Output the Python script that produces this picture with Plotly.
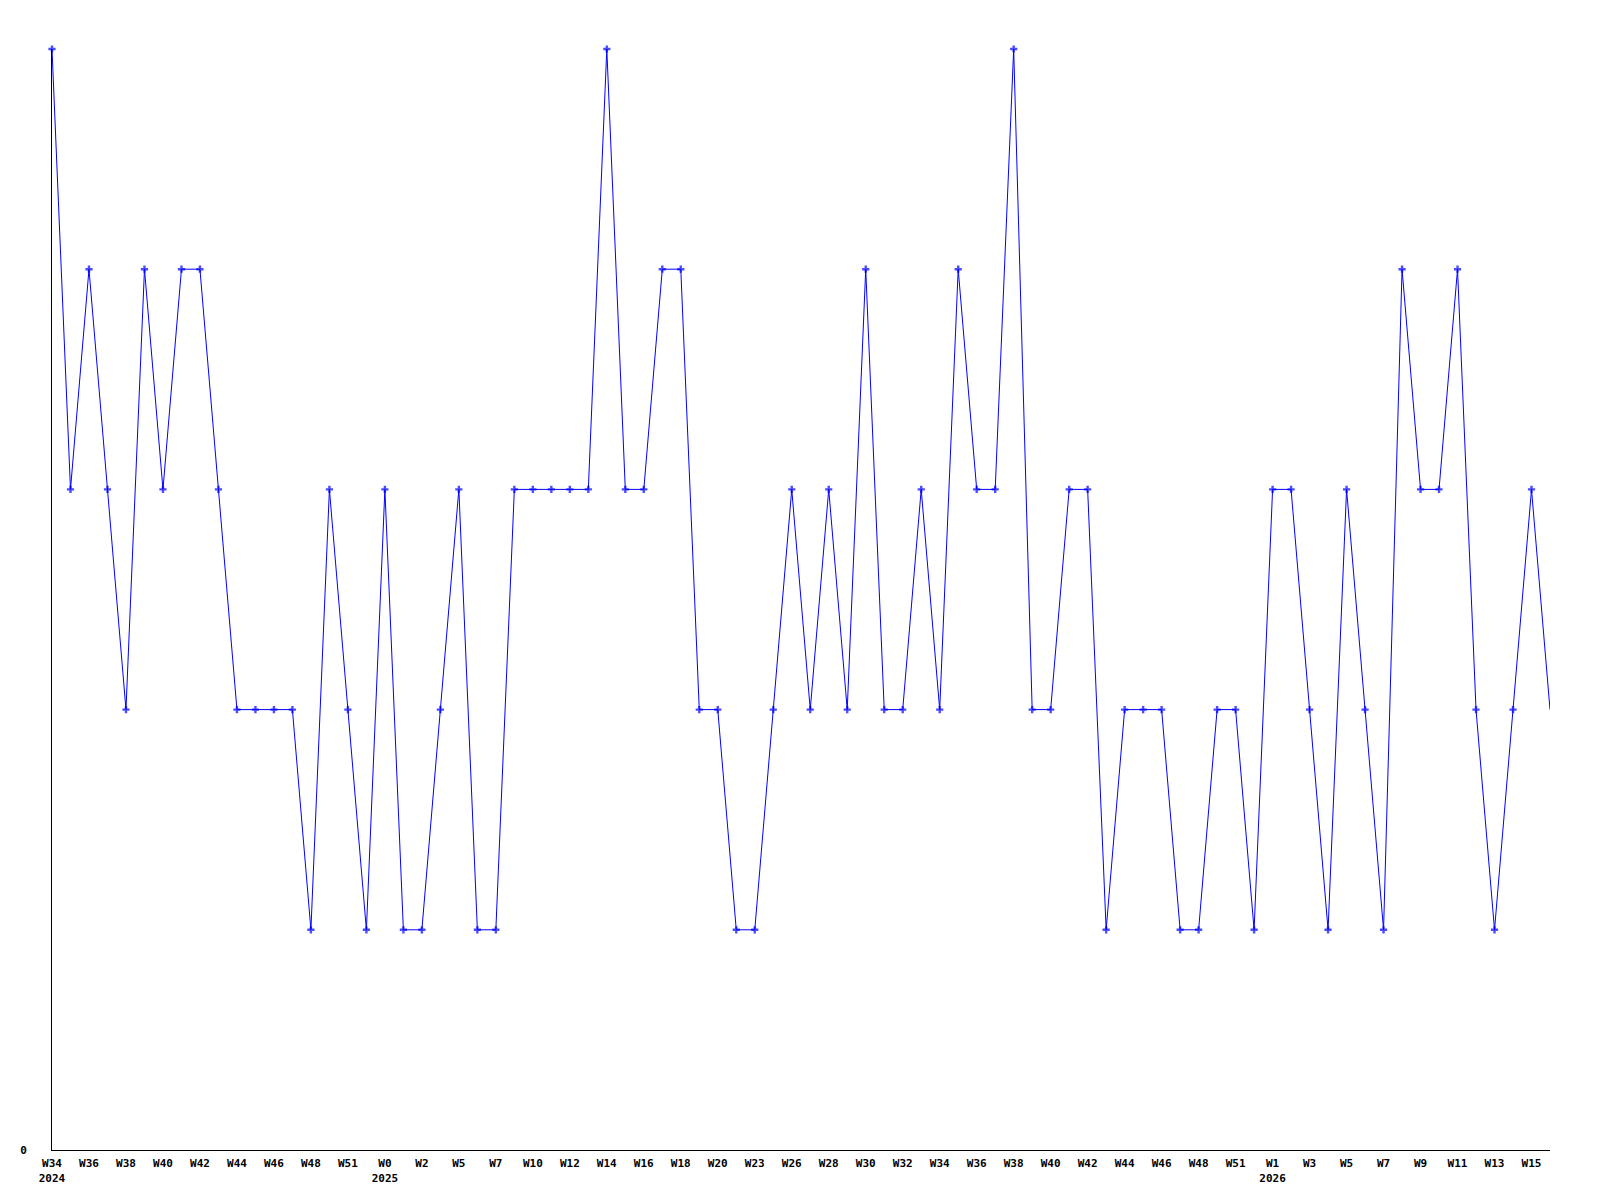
import plotly.graph_objects as go

values = [5, 3, 4, 3, 2, 4, 3, 4, 4, 3,
          2, 2, 2, 2, 1, 3, 2, 1, 3, 1,
          1, 2, 3, 1, 1, 3, 3, 3, 3, 3,
          5, 3, 3, 4, 4, 2, 2, 1, 1, 2,
          3, 2, 3, 2, 4, 2, 2, 3, 2, 4,
          3, 3, 5, 2, 2, 3, 3, 1, 2, 2,
          2, 1, 1, 2, 2, 1, 3, 3, 2, 1,
          3, 2, 1, 4, 3, 3, 4, 2, 1, 2,
          3, 2]

tick_labels = ["W34<br>2024", "W36", "W38", "W40", "W42", "W44", "W46", "W48", "W51",
               "W0<br>2025", "W2", "W5", "W7", "W10", "W12", "W14", "W16", "W18", "W20",
               "W23", "W26", "W28", "W30", "W32", "W34", "W36", "W38", "W40", "W42",
               "W44", "W46", "W48", "W51", "W1<br>2026", "W3", "W5", "W7", "W9", "W11",
               "W13", "W15"]

x = list(range(len(values)))
tick_vals = x[::2][:len(tick_labels)]
marker_sizes = [6] * (len(values) - 1) + [0]

fig = go.Figure(go.Scatter(
    x=x, y=values, mode="lines+markers",
    line=dict(color="#0000ff", width=1),
    marker=dict(symbol="cross", size=marker_sizes, color="#0000ff", line=dict(width=0)),
    cliponaxis=False,
    hoverinfo="skip",
))

font = dict(family="DejaVu Sans Mono", size=11, color="black", weight="bold")

fig.update_layout(
    width=1600, height=1200,
    margin=dict(l=42, r=58, t=41, b=58),
    paper_bgcolor="white", plot_bgcolor="white",
    showlegend=False,
    font=font,
)
fig.update_xaxes(
    range=[0, len(values) - 1], tickmode="array", tickvals=tick_vals, ticktext=tick_labels,
    showgrid=False, zeroline=False, showline=True, linecolor="black", linewidth=1,
    ticks="", tickfont=font, tickangle=0, ticklabelstandoff=3,
)
fig.update_yaxes(
    range=[0, 5], tickmode="array", tickvals=[0], ticktext=["0"],
    showgrid=False, zeroline=False, showline=True, linecolor="black", linewidth=1,
    ticks="", tickfont=font, ticklabelstandoff=22,
)

fig.write_html("out.html")
